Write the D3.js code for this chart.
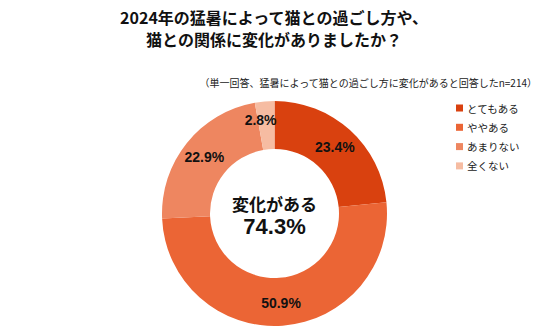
<!DOCTYPE html>
<html><head><meta charset="utf-8">
<script src="https://cdn.jsdelivr.net/npm/d3@7"></script>
<style>body{margin:0;background:#fff;}svg{display:block;}</style>
</head><body>
<script>
const categories = ["とてもある","ややある","あまりない","全くない"];
const values = [23.4, 50.9, 22.9, 2.8];
const colors = ["#D9410F","#EB6535","#EE8660","#F6BCA2"];
const titleLines = ["2024年の猛暑によって猫との過ごし方や、","猫との関係に変化がありましたか？"];
const subtitle = "（単一回答、猛暑によって猫との過ごし方に変化があると回答したn=214）";
const centerLabel = ["変化がある","74.3%"];

const W=550,H=328;
const svg=d3.select("body").append("svg").attr("width",W).attr("height",H);
const jp='"Noto Sans CJK JP","Noto Sans",sans-serif';
const num='"Liberation Sans",Arial,sans-serif';

svg.selectAll("text.title").data(titleLines).enter().append("text")
  .attr("x",274).attr("y",(d,i)=>23.5+i*22).attr("text-anchor","middle")
  .attr("font-family",jp).attr("font-weight","bold").attr("font-size",16).attr("fill","#111")
  .text(d=>d);

svg.append("text").attr("x",537).attr("y",87).attr("text-anchor","end")
  .attr("font-family",jp).attr("font-size",10).attr("fill","#222").text(subtitle);

const cx=274.5, cy=213.5, rO=112.5, rI=64.5;
const pie=d3.pie().sort(null).value(d=>d)(values);
const arc=d3.arc().innerRadius(rI).outerRadius(rO);
const g=svg.append("g").attr("transform",`translate(${cx},${cy})`);
g.selectAll("path").data(pie).enter().append("path")
  .attr("d",arc).attr("fill",(d,i)=>colors[i]);

const lr=d3.arc().innerRadius(90).outerRadius(90);
g.selectAll("text.lab").data(pie).enter().append("text")
  .attr("transform",(d,i)=>{const c=lr.centroid(d); if(i===3){c[0]-=6;c[1]-=4;} return `translate(${c[0]},${c[1]})`;})
  .attr("text-anchor","middle").attr("dominant-baseline","central")
  .attr("font-family",num).attr("font-weight","bold").attr("font-size",14).attr("fill","#111")
  .text(d=>d3.format(".1f")(d.data)+"%");

g.append("text").attr("y",-10).attr("text-anchor","middle").attr("dominant-baseline","central")
  .attr("font-family",jp).attr("font-weight","bold").attr("font-size",17).attr("fill","#111").text(centerLabel[0]);
g.append("text").attr("y",13).attr("text-anchor","middle").attr("dominant-baseline","central")
  .attr("font-family",num).attr("font-weight","bold").attr("font-size",22).attr("fill","#111").text(centerLabel[1]);

const leg=svg.append("g");
const li=leg.selectAll("g").data(categories).enter().append("g")
  .attr("transform",(d,i)=>`translate(456,${108+i*19.3})`);
li.append("rect").attr("x",0).attr("y",-3.5).attr("width",7).attr("height",7).attr("fill",(d,i)=>colors[i]);
li.append("text").attr("x",11).attr("y",0).attr("dominant-baseline","central")
  .attr("font-family",jp).attr("font-size",10.5).attr("fill","#222").text(d=>d);
</script>
</body></html>
